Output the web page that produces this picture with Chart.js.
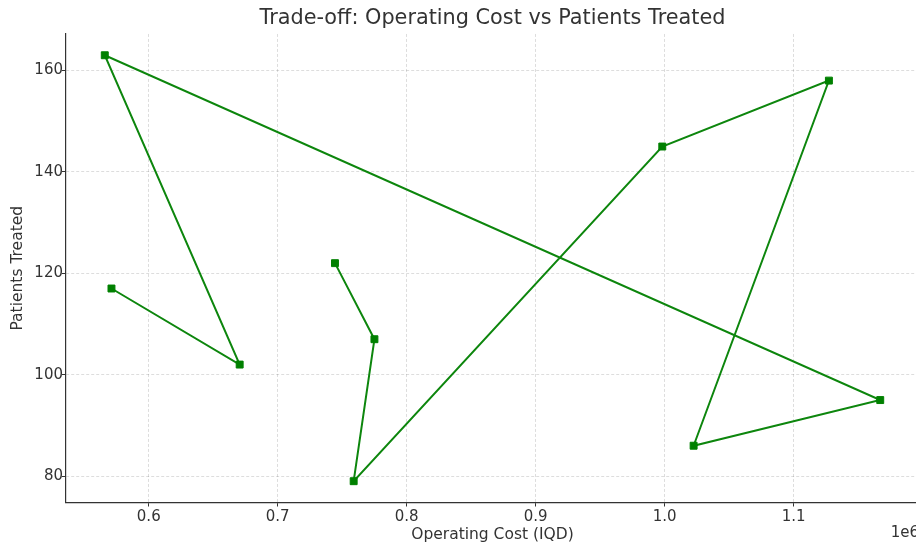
<!DOCTYPE html>
<html>
<head>
<meta charset="utf-8">
<script src="https://cdn.jsdelivr.net/npm/chart.js@4"></script>
<style>
  html, body { margin: 0; padding: 0; background: #fff; overflow: hidden; width: 916px; height: 544px; }
  #wrap { width: 916px; height: 544px; overflow: hidden; position: relative; }
  canvas { display: block; position: absolute; left: 0; top: 0; }
</style>
</head>
<body>
<div id="wrap"><canvas id="c" width="921" height="544" style="width:921px;height:544px"></canvas></div>
<script>
// Data (in path order)
const operatingCost = [571100, 670500, 565900, 1167200, 1022500, 1127400, 998200, 758900, 775000, 744400];
const patientsTreated = [117, 102, 163, 95, 86, 158, 145, 79, 107, 122];
const xTicks = [600000, 700000, 800000, 900000, 1000000, 1100000];
const yTicks = [80, 100, 120, 140, 160];
const titleText = 'Trade-off: Operating Cost vs Patients Treated';
const xLabel = 'Operating Cost (IQD)';
const yLabel = 'Patients Treated';
const offsetText = '1e6';

function margins(arr, m) {
  const lo = Math.min(...arr), hi = Math.max(...arr), d = (hi - lo) * m;
  return [lo - d, hi + d];
}
const [xMin, xMax] = margins(operatingCost, 0.05);
const [yMin, yMax] = margins(patientsTreated, 0.05);

const FONT = "'DejaVu Sans', sans-serif";
const TXT = '#333';

const offsetPlugin = {
  id: 'offsetText',
  afterDraw(chart) {
    const ctx = chart.ctx, a = chart.chartArea;
    ctx.save();
    ctx.font = "15px " + FONT;
    ctx.fillStyle = TXT;
    ctx.textAlign = 'right';
    ctx.textBaseline = 'middle';
    ctx.fillText(offsetText, a.right, 533);
    ctx.restore();
  }
};

new Chart(document.getElementById('c'), {
  type: 'scatter',
  data: {
    datasets: [{
      data: operatingCost.map((v, i) => ({x: v, y: patientsTreated[i]})),
      showLine: true,
      borderColor: '#0d860d',
      borderWidth: 2,
      backgroundColor: '#008000',
      pointStyle: 'rect',
      pointRadius: 4.9,
      pointBorderWidth: 1,
      pointBorderColor: '#008000',
      pointBackgroundColor: '#008000',
      tension: 0
    }]
  },
  plugins: [offsetPlugin],
  options: {
    responsive: false,
    animation: false,
    devicePixelRatio: 1,
    layout: { autoPadding: false, padding: { left: 0, right: 2, top: 0, bottom: 0 } },
    plugins: {
      legend: { display: false },
      tooltip: { enabled: false },
      title: {
        display: true,
        fullSize: false,
        text: titleText,
        color: TXT,
        font: { family: FONT, size: 20.8, weight: 'normal', lineHeight: 1.2 },
        padding: { top: 6.5, bottom: 2.5 }
      }
    },
    scales: {
      x: {
        type: 'linear',
        min: xMin, max: xMax,
        afterBuildTicks: s => { s.ticks = xTicks.map(v => ({value: v})); },
        afterFit: s => { s.height = 41.5; s.paddingLeft = 0; s.paddingRight = 0; },
        ticks: {
          color: TXT,
          font: { family: FONT, size: 15 },
          padding: 2,
          maxRotation: 0,
          autoSkip: false,
          callback: v => (v / 1e6).toFixed(1)
        },
        grid: { color: 'rgba(0,0,0,0.17)', lineWidth: 0.8, tickColor: '#333', tickWidth: 1, tickLength: 4 },
        border: { display: true, color: '#333', width: 1.2, dash: [3, 2] },
        title: {
          display: true, text: xLabel, color: TXT,
          font: { family: FONT, size: 15.5, lineHeight: 1.2 },
          padding: { top: 0, bottom: 0 }
        }
      },
      y: {
        type: 'linear',
        min: yMin, max: yMax,
        afterBuildTicks: s => { s.ticks = yTicks.map(v => ({value: v})); },
        afterFit: s => { s.width = 66; },
        ticks: {
          color: TXT,
          font: { family: FONT, size: 15 },
          padding: -1,
          autoSkip: false
        },
        grid: { color: 'rgba(0,0,0,0.17)', lineWidth: 0.8, tickColor: '#333', tickWidth: 1, tickLength: 4 },
        border: { display: true, color: '#333', width: 1.2, dash: [3, 2] },
        title: {
          display: true, text: yLabel, color: TXT,
          font: { family: FONT, size: 15.5, lineHeight: 1.2 },
          padding: { top: 8.5, bottom: 0 }
        }
      }
    }
  }
});
</script>
</body>
</html>
